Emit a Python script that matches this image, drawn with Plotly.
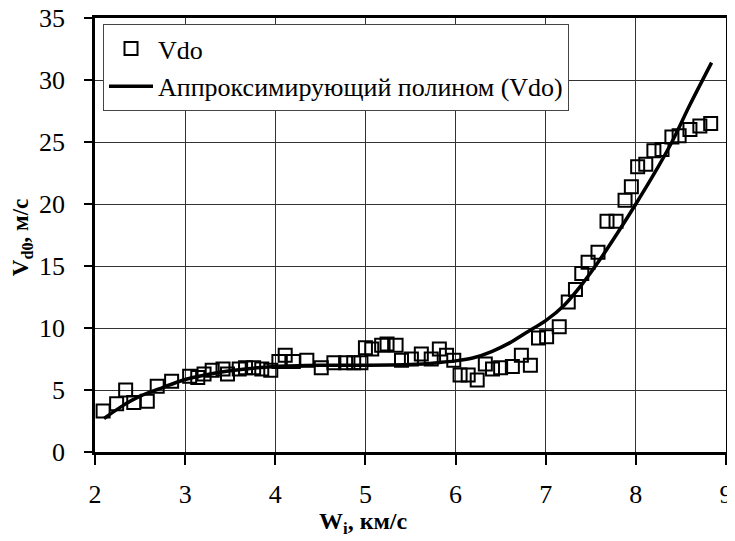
import plotly.graph_objects as go

# Scatter data: Vdo
vdo_x = [2.09, 2.24, 2.34, 2.43, 2.58, 2.69, 2.85, 3.05, 3.14, 3.21, 3.30, 3.42, 3.47,
         3.60, 3.67, 3.76, 3.85, 3.95, 4.04, 4.11, 4.20, 4.35, 4.51, 4.65, 4.78, 4.87,
         4.95, 5.00, 5.07, 5.18, 5.24, 5.34, 5.40, 5.51, 5.62, 5.73, 5.82, 5.90, 5.98,
         6.05, 6.14, 6.24, 6.33, 6.41, 6.50, 6.63, 6.73, 6.83, 6.92, 7.01, 7.15, 7.25,
         7.33, 7.40, 7.47, 7.58, 7.68, 7.78, 7.88, 7.95, 8.02, 8.11, 8.20, 8.29, 8.40,
         8.48, 8.60, 8.71, 8.83]
vdo_y = [3.3, 3.9, 5.0, 4.0, 4.1, 5.3, 5.7, 6.1, 6.0, 6.3, 6.6, 6.7, 6.3,
         6.7, 6.8, 6.8, 6.7, 6.6, 7.3, 7.8, 7.3, 7.4, 6.8, 7.2, 7.2, 7.2,
         7.2, 8.4, 8.3, 8.6, 8.7, 8.6, 7.4, 7.5, 7.9, 7.5, 8.3, 7.8, 7.4,
         6.2, 6.2, 5.8, 7.1, 6.7, 6.8, 6.9, 7.8, 7.0, 9.2, 9.3, 10.1, 12.1,
         13.1, 14.4, 15.3, 16.1, 18.6, 18.6, 20.3, 21.4, 23.0, 23.2, 24.3, 24.4, 25.4,
         25.5, 26.0, 26.3, 26.5]

# Approximating polynomial
fit_x = [2.10, 2.30, 2.50, 2.75, 3.00, 3.25, 3.50, 4.00, 4.50, 5.00, 5.50, 5.80,
         6.00, 6.20, 6.40, 6.60, 6.80, 7.00, 7.20, 7.40, 7.60, 7.80, 8.00, 8.20,
         8.40, 8.60, 8.84]
fit_y = [2.7, 3.7, 4.5, 5.2, 5.85, 6.25, 6.55, 6.9, 7.0, 7.0, 7.05, 7.2,
         7.35, 7.6, 8.1, 8.8, 9.7, 10.6, 11.8, 13.5, 15.5, 17.7, 20.0, 22.4,
         25.0, 28.0, 31.4]

x_ticks = [2, 3, 4, 5, 6, 7, 8, 9]
y_ticks = [0, 5, 10, 15, 20, 25, 30, 35]

FONT = "Liberation Serif"

fig = go.Figure()
fig.add_trace(go.Scatter(
    x=vdo_x, y=vdo_y, mode="markers", name="Vdo",
    marker=dict(symbol="square-open", size=13, color="black", line=dict(width=2, color="black")),
    legendgroup="a",
))
fig.add_trace(go.Scatter(
    x=fit_x, y=fit_y, mode="lines", name="Аппроксимирующий полином (Vdo)",
    line=dict(color="black", width=3.5, shape="spline", smoothing=0.8),
    legendgroup="b",
))

axis_common = dict(
    showgrid=True, gridcolor="#333333", gridwidth=1.3,
    showline=True, linecolor="black", linewidth=2.5, mirror=True,
    ticks="outside", tickcolor="black", tickwidth=1.5,
    zeroline=False, automargin=False, ticklabeloverflow="allow",
    tickfont=dict(family=FONT, size=26, color="black"),
)

fig.update_xaxes(range=[2, 9], tickvals=x_ticks, ticklen=10, ticklabelstandoff=7, **axis_common)
fig.update_yaxes(range=[0, 35], tickvals=y_ticks, ticklen=8, ticklabelstandoff=14, **axis_common)

# the page body adds an 8px margin, so the figure is sized/offset to land the plot area where the reference has it
fig.update_layout(
    width=727, height=533,
    margin=dict(l=87, r=9, t=10, b=89, autoexpand=False),
    plot_bgcolor="white", paper_bgcolor="white",
    font=dict(family=FONT, color="black"),
    showlegend=True,
    legend=dict(
        x=0.0127, y=0.986, xanchor="left", yanchor="top",
        bgcolor="white", bordercolor="#444444", borderwidth=1,
        font=dict(family=FONT, size=26, color="black"),
        itemwidth=44, traceorder="grouped", tracegroupgap=1,
    ),
    annotations=[
        dict(text="<b>W<sub>i</sub>, км/с</b>", x=0.425, y=-0.164, xref="paper", yref="paper",
             xanchor="center", yanchor="middle", showarrow=False,
             font=dict(family=FONT, size=24, color="black")),
        dict(text="<b>V<sub>d0</sub>, м/с</b>", x=-0.1157, y=0.495, xref="paper", yref="paper",
             xanchor="center", yanchor="middle", showarrow=False, textangle=-90,
             font=dict(family=FONT, size=23, color="black")),
    ],
)

fig.write_html("out.html")
